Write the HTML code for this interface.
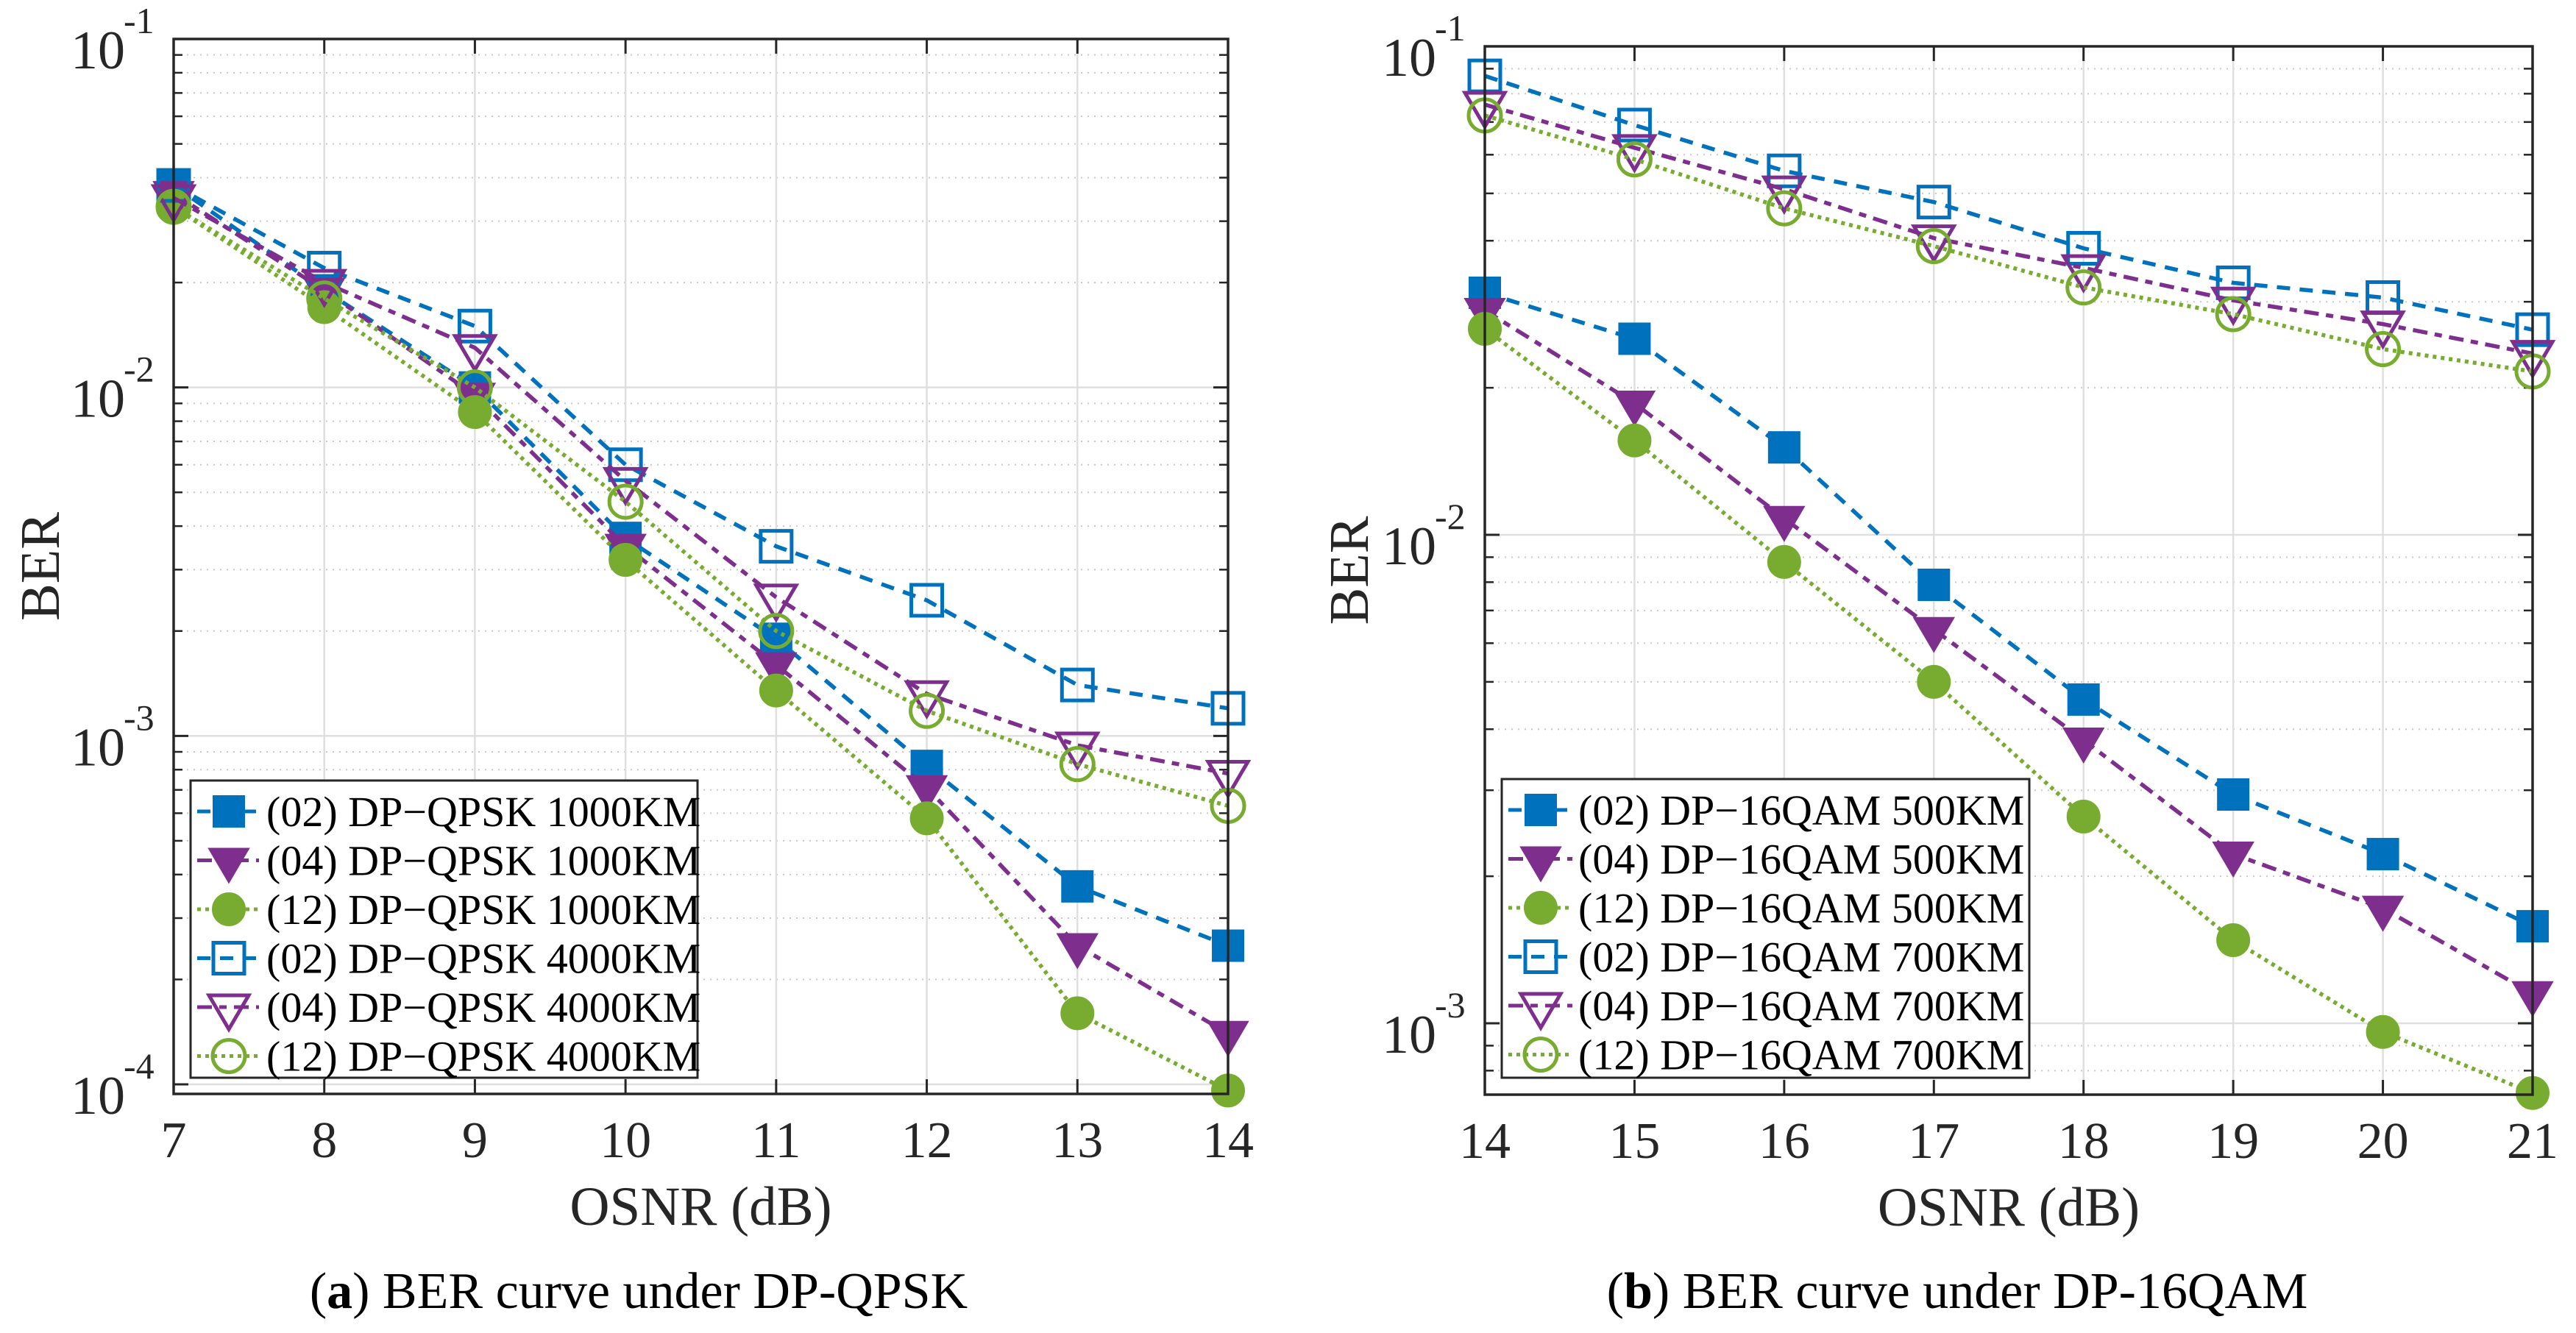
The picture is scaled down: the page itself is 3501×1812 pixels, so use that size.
<!DOCTYPE html>
<html><head><meta charset="utf-8">
<style>
html,body{margin:0;padding:0;background:#fff;}
svg{display:block;font-family:"Liberation Serif","Times New Roman",serif;}
</style></head>
<body>
<svg id="fig" width="3501" height="1812" viewBox="0 0 3501 1812" xmlns="http://www.w3.org/2000/svg">
<rect width="3501" height="1812" fill="#fff"/>
<g id="pa"></g>
<g id="pb"></g>
</svg>
<script>
// ---- Chart (a) DP-QPSK data ----
const xA = [7, 8, 9, 10, 11, 12, 13, 14];
const a02_1000 = [0.038, 0.019, 0.0100, 0.0037, 0.0019, 0.00082, 0.00037, 0.00025];
const a04_1000 = [0.036, 0.019, 0.0095, 0.0035, 0.0016, 0.00071, 0.00025, 0.00014];
const a12_1000 = [0.033, 0.017, 0.0085, 0.0032, 0.00135, 0.00058, 0.00016, 0.000096];
const a02_4000 = [0.038, 0.022, 0.015, 0.0060, 0.0035, 0.00245, 0.0014, 0.0012];
const a04_4000 = [0.035, 0.020, 0.013, 0.0054, 0.0025, 0.00132, 0.00094, 0.00078];
const a12_4000 = [0.033, 0.018, 0.010, 0.0047, 0.0020, 0.00118, 0.00083, 0.00063];
const labelsA = ["(02) DP\u2212QPSK 1000KM","(04) DP\u2212QPSK 1000KM","(12) DP\u2212QPSK 1000KM","(02) DP\u2212QPSK 4000KM","(04) DP\u2212QPSK 4000KM","(12) DP\u2212QPSK 4000KM"];
const yTicksA = [-4, -3, -2, -1];
// ---- Chart (b) DP-16QAM data ----
const xB = [14, 15, 16, 17, 18, 19, 20, 21];
const b02_500 = [0.0313, 0.0252, 0.0151, 0.0079, 0.0046, 0.00294, 0.00222, 0.00158];
const b04_500 = [0.0288, 0.0186, 0.0108, 0.0064, 0.0038, 0.00222, 0.00172, 0.00115];
const b12_500 = [0.0264, 0.0156, 0.0088, 0.0050, 0.00265, 0.00148, 0.00096, 0.00072];
const b02_700 = [0.087, 0.069, 0.0556, 0.048, 0.0386, 0.0328, 0.0306, 0.0263];
const b04_700 = [0.076, 0.062, 0.051, 0.0405, 0.0352, 0.0302, 0.027, 0.0235];
const b12_700 = [0.0722, 0.0587, 0.0466, 0.039, 0.0321, 0.0283, 0.024, 0.0216];
const labelsB = ["(02) DP\u221216QAM 500KM","(04) DP\u221216QAM 500KM","(12) DP\u221216QAM 500KM","(02) DP\u221216QAM 700KM","(04) DP\u221216QAM 700KM","(12) DP\u221216QAM 700KM"];
const yTicksB = [-3, -2, -1];

const NS = "http://www.w3.org/2000/svg";
const BLUE="#0072BD", PURPLE="#7E2F8E", GREEN="#77AC30";
const styles = [
  {c:BLUE, dash:"18 13", m:"square", fill:true},
  {c:PURPLE, dash:"20 10 10 10", m:"tri", fill:true},
  {c:GREEN, dash:"5 6", m:"circle", fill:true},
  {c:BLUE, dash:"18 13", m:"square", fill:false},
  {c:PURPLE, dash:"20 10 10 10", m:"tri", fill:false},
  {c:GREEN, dash:"5 6", m:"circle", fill:false}
];
function mk(tag, attrs, parent){const e=document.createElementNS(NS,tag);for(const k in attrs)e.setAttribute(k,attrs[k]);parent.appendChild(e);return e;}

function marker(g, type, x, y, col, fill){
  let e;
  if(type==="square") e=mk("rect",{x:x-21,y:y-21,width:42,height:42},g);
  else if(type==="circle") e=mk("circle",{cx:x,cy:y,r:22},g);
  else e=mk("polygon",{points:`${x-27},${y-16} ${x+27},${y-16} ${x},${y+30}`},g);
  e.setAttribute("fill", fill?col:"none");
  e.setAttribute("stroke", col);
  e.setAttribute("stroke-width", fill?2:5);
  return e;
}

function chart(g, cfg){
  const {L,R,T,B,xmin,xmax,ymin,ymax,xs,series,labels,yTicks,leg,caption,capBold,capX} = cfg;
  const sx = v => L + (v-xmin)/(xmax-xmin)*(R-L);
  const sy = v => B - (Math.log10(v)-ymin)/(ymax-ymin)*(B-T);
  const grid = mk("g",{},g);
  
  
  for(let d=Math.floor(ymin); d<Math.ceil(ymax); d++){
    for(let k=2;k<=9;k++){
      const v=k*Math.pow(10,d); const lv=Math.log10(v);
      if(lv<ymin||lv>ymax) continue;
      const y=sy(v);
      mk("line",{x1:L,x2:R,y1:y,y2:y,stroke:"#c8c8c8","stroke-width":2,"stroke-dasharray":"2 7"},grid);
      mk("line",{x1:L,x2:L+12,y1:y,y2:y,stroke:"#262626","stroke-width":2.5},grid);
      mk("line",{x1:R-12,x2:R,y1:y,y2:y,stroke:"#262626","stroke-width":2.5},grid);
    }
  }
  yTicks.forEach(p=>{
    const y=sy(Math.pow(10,p));
    mk("line",{x1:L,x2:R,y1:y,y2:y,stroke:"#dfdfdf","stroke-width":2.5},grid);
    mk("line",{x1:L,x2:L+20,y1:y,y2:y,stroke:"#262626","stroke-width":3},grid);
    mk("line",{x1:R-20,x2:R,y1:y,y2:y,stroke:"#262626","stroke-width":3},grid);
    const t=mk("text",{x:L-66,y:y+40,"font-size":74,"text-anchor":"end",fill:"#262626"},g);
    t.textContent="10";
    const s=mk("text",{x:L-68,y:y-8,"font-size":50,"text-anchor":"start",fill:"#262626"},g);
    s.textContent="-"+(-p);
    
    
  });
  xs.forEach(v=>{
    const x=sx(v);
    mk("line",{x1:x,x2:x,y1:T,y2:B,stroke:"#dfdfdf","stroke-width":2.5},grid);
    mk("line",{x1:x,x2:x,y1:B-20,y2:B,stroke:"#262626","stroke-width":3},grid);
    mk("line",{x1:x,x2:x,y1:T,y2:T+20,stroke:"#262626","stroke-width":3},grid);
    const t=mk("text",{x:x,y:B+86,"font-size":70,"text-anchor":"middle",fill:"#262626"},g);
    t.textContent=String(v);
    
    
  });
  series.forEach((vals,i)=>{
    const st=styles[i];
    const sg=mk("g",{},g);
    
    
    const pts=vals.map((v,j)=>sx(xs[j])+","+sy(v)).join(" ");
    mk("polyline",{points:pts,fill:"none",stroke:st.c,"stroke-width":5.5,"stroke-dasharray":st.dash},sg);
    vals.forEach((v,j)=>{
      const m=marker(sg,st.m,sx(xs[j]),sy(v),st.c,st.fill);
      
      
    });
  });
  const box=mk("rect",{x:L,y:T,width:R-L,height:B-T,fill:"none",stroke:"#262626","stroke-width":3.5},g);
  
  
  const lg=mk("g",{},g);
  
  
  mk("rect",{x:leg.x0,y:leg.y0,width:leg.x1-leg.x0,height:leg.y1-leg.y0,fill:"#fff",stroke:"#262626","stroke-width":3},lg);
  labels.forEach((lab,i)=>{
    const st=styles[i];
    const y=leg.y0+42+i*66.5;
    const en=mk("g",{},lg);
    
    
    mk("line",{x1:leg.x0+9,x2:leg.lx1,y1:y,y2:y,stroke:st.c,"stroke-width":5,"stroke-dasharray":st.dash},en);
    marker(en,st.m,leg.mx,y,st.c,st.fill);
    const t=mk("text",{x:leg.tx,y:y+20,"font-size":58,fill:"#000"},en);
    t.textContent=lab;
  });
  const xt=mk("text",{x:(L+R)/2,y:B+178,"font-size":75,"text-anchor":"middle",fill:"#262626"},g);
  xt.textContent="OSNR (dB)";
  
  
  const yt=mk("text",{x:0,y:0,"font-size":76,"text-anchor":"middle",fill:"#262626",transform:`translate(${cfg.ylabX},${(T+B)/2}) rotate(-90)`},g);
  yt.textContent="BER";
  
  
  const cap=mk("text",{x:capX,y:1778,"font-size":70,"text-anchor":"middle",fill:"#000"},g);
  
  
  const tb=document.createElementNS(NS,"tspan"); tb.textContent="("; cap.appendChild(tb);
  const b=document.createElementNS(NS,"tspan"); b.setAttribute("font-weight","bold"); b.textContent=capBold; cap.appendChild(b);
  const rest=document.createElementNS(NS,"tspan"); rest.textContent=") "+caption; cap.appendChild(rest);
}

chart(document.getElementById("pa"),{
  L:236,R:1669,T:53,B:1487,xmin:7,xmax:14,ymin:-4-13/473.7,ymax:-1,xs:xA,
  series:[a02_1000,a04_1000,a12_1000,a02_4000,a04_4000,a12_4000],labels:labelsA,yTicks:yTicksA,
  leg:{x0:259,y0:1061,x1:948,y1:1465,lx1:352,mx:311,tx:362},
  ylabX:80,caption:"BER curve under DP-QPSK",capBold:"a",capX:868
});
chart(document.getElementById("pb"),{
  L:2018,R:3442,T:63,B:1488,xmin:14,xmax:21,ymin:-3-97/664,ymax:-1,xs:xB,
  series:[b02_500,b04_500,b12_500,b02_700,b04_700,b12_700],labels:labelsB,yTicks:yTicksB,
  leg:{x0:2041,y0:1059,x1:2758,y1:1465,lx1:2137,mx:2094,tx:2145},
  ylabX:1859,caption:"BER curve under DP-16QAM",capBold:"b",capX:2660
});
</script>
</body></html>
